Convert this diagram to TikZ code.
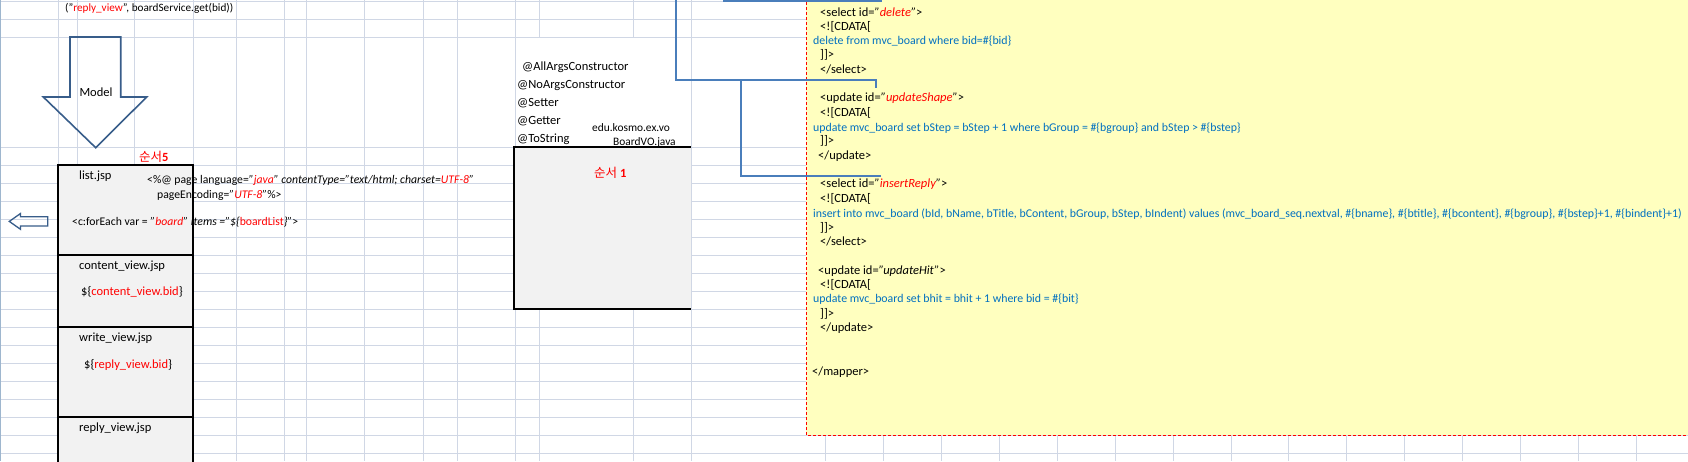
\documentclass[tikz,border=0pt]{standalone}
\usepackage{fontspec}
\setmainfont{Carlito}
\newfontfamily\kr{Noto Sans CJK KR}
\definecolor{gridc}{HTML}{D0D7E5}
\definecolor{edgec}{HTML}{9EB6CE}
\definecolor{boxfill}{HTML}{F2F2F2}
\definecolor{memo}{HTML}{FFFFBF}
\definecolor{codeblue}{HTML}{0070C0}
\definecolor{conn}{HTML}{4A7EBB}
\definecolor{shapeline}{HTML}{385D8A}
\newcommand{\fsz}{\fontsize{12.5}{15}\selectfont}
\newcommand{\fsm}{\fontsize{11.4}{13}\selectfont}
\newcommand{\fjsp}{\fontsize{11.7}{14}\selectfont}
\newcommand{\fcode}{\fontsize{11.85}{14}\selectfont}
\newcommand{\fcall}{\fontsize{11.2}{13}\selectfont}
\newcommand{\rd}[1]{\textcolor{red}{#1}}
\begin{document}
\begin{tikzpicture}[x=1pt,y=-1pt,
  every node/.style={inner sep=0pt},
  txt/.style={anchor=base west,font=\fsz},
  small/.style={anchor=base west,font=\fsm},
  jsptxt/.style={anchor=base west,font=\fjsp},
  codetxt/.style={anchor=base west,font=\fcode,text=codeblue},
  gridline/.style={gridc,line width=1pt},
  jspline/.style={black,line width=2.6pt},
  connline/.style={conn,line width=1.2pt},
  blockarrow/.style={shapeline,line width=1.6pt}]
\useasboundingbox (0,0) rectangle (1688,461);
\fill[white] (0,0) rectangle (1688,461);
% ---- grid
\foreach \yy in {1,19,37,147,165,183,201,219,237,255,273,291,309,327,345,363,381,399,417,435,453}
  \draw[gridline] (0,\yy) -- (1688,\yy);
\foreach \xx in {58,77,134,193,236,284,306,364,423,457,515,691,825,883,941,999,1057,1115,1173,1231,1288,1346,1404,1462,1520,1578,1636}
  \draw[gridline] (\xx,0) -- (\xx,461);
\foreach \xx in {539,633}{
  \draw[gridline] (\xx,0) -- (\xx,37);
  \draw[gridline] (\xx,147) -- (\xx,461);}
\draw[edgec,line width=1.2pt] (0.6,0) -- (0.6,461);
% ---- yellow memo
\fill[memo] (806,-3) rectangle (1692,435);
\draw[red,line width=1pt,dash pattern=on 3pt off 2pt] (806,-3) -- (806,435) -- (1692,435);
% ---- jsp column
\fill[boxfill] (58,165) rectangle (193,465);
\draw[jspline] (58,465) -- (58,165) -- (193,165) -- (193,465);
\draw[jspline] (58,255) -- (193,255);
\draw[jspline] (58,327) -- (193,327);
\draw[jspline] (58,417) -- (193,417);
% ---- VO box
\fill[boxfill] (514,147) rectangle (691,309);
\draw[jspline] (691,147) -- (514,147) -- (514,309) -- (691,309);
% ---- block arrows
\draw[blockarrow,line join=miter] (70,37) -- (120.7,37) -- (120.7,97) -- (146.7,97) -- (95.7,147.7) -- (43.3,97) -- (70,97) -- cycle;
\draw[blockarrow,line width=1.3pt,line join=miter] (47.7,216.7) -- (20.5,216.7) -- (20.5,213.5) -- (9.3,221.4) -- (20.5,229.3) -- (20.5,226) -- (47.7,226) -- cycle;
% ---- connectors
\coordinate (ca1) at (723,1);
\coordinate (ca2) at (882,1);
\coordinate (cb1) at (676,-2);
\coordinate (cb2) at (876,88.3);
\coordinate (cc1) at (741,80);
\coordinate (cc2) at (881,176);
\draw[connline] (ca1) -- (ca2);
\draw[connline] (cb1) |- (cb2 |- 0,80) -- (cb2);
\draw[connline] (cc1) |- (cc2);
% ---- left texts
\node[anchor=base west,font=\fcall] (call) at (65,11) {("\rd{reply\_view}", boardService.get(bid))};
\node[anchor=base,font=\fsz] (model) at (96,96) {Model};
\node[txt,text=red] (ord5) at (139,161) {{\kr 순서}\textbf{5}};
\node[txt] (listjsp) at (79,179) {list.jsp};
\node[jsptxt] (pagedir) at (147,183.3) {<\%@ page language=\textit{"\rd{java}"} \textit{contentType="text/html; charset=\rd{UTF-8}"}};
\node[jsptxt] (pageenc) at (157,198) {pageEncoding=\textit{"\rd{UTF-8}"}\%>};
\node[jsptxt] (foreach) at (72,225) {<c:forEach var = \textit{"\rd{board}"} \textit{items ="\$\{}\rd{boardList}\textit{\}"}>};
\node[txt] (contentjsp) at (79,269) {content\_view.jsp};
\node[txt] (contentbid) at (81,295) {\$\{\rd{content\_view.bid}\}};
\node[txt] (writejsp) at (79,341) {write\_view.jsp};
\node[txt] (replybid) at (84,368) {\$\{\rd{reply\_view.bid}\}};
\node[txt] (replyjsp) at (79,431) {reply\_view.jsp};
% ---- VO texts
\node[txt] (ann1) at (522,70) {@AllArgsConstructor};
\node[txt] (ann2) at (517,88) {@NoArgsConstructor};
\node[txt] (ann3) at (517,106) {@Setter};
\node[txt] (ann4) at (517,124) {@Getter};
\node[txt] (ann5) at (517,142) {@ToString};
\node[small] (pkg) at (592,131) {edu.kosmo.ex.vo};
\node[small] (vofile) at (613,145) {BoardVO.java};
\node[txt,text=red] (ord1) at (594,177) {{\kr 순서} \textbf{1}};
% ---- mapper texts
\node[txt] (m1) at (820,16) {<select id=\textit{"\rd{delete}"}>};
\node[txt] (m2) at (820,30.3) {<![CDATA[};
\node[codetxt] (m3) at (813,44.6) {delete from mvc\_board where bid=\#\{bid\}};
\node[txt] (m4) at (820,58.6) {]]>};
\node[txt] (m5) at (820,73.6) {</select>};
\node[txt] (m6) at (820,101.6) {<update id=\textit{"\rd{updateShape}"}>};
\node[txt] (m7) at (820,116.3) {<![CDATA[};
\node[codetxt] (m8) at (813,131) {update mvc\_board set bStep = bStep + 1 where bGroup = \#\{bgroup\} and bStep > \#\{bstep\}};
\node[txt] (m9) at (820,144.3) {]]>};
\node[txt] (m10) at (818,159.3) {</update>};
\node[txt] (m11) at (820,187.6) {<select id=\textit{"\rd{insertReply}"}>};
\node[txt] (m12) at (820,202.3) {<![CDATA[};
\node[codetxt] (m13) at (813,217) {insert into mvc\_board (bId, bName, bTitle, bContent, bGroup, bStep, bIndent) values (mvc\_board\_seq.nextval, \#\{bname\}, \#\{btitle\}, \#\{bcontent\}, \#\{bgroup\}, \#\{bstep\}+1, \#\{bindent\}+1)};
\node[txt] (m14) at (820,231) {]]>};
\node[txt] (m15) at (820,245.3) {</select>};
\node[txt] (m16) at (818,274.3) {<update id=\textit{"updateHit"}>};
\node[txt] (m17) at (820,288.3) {<![CDATA[};
\node[codetxt] (m18) at (813,302.6) {update mvc\_board set bhit = bhit + 1 where bid = \#\{bit\}};
\node[txt] (m19) at (820,317) {]]>};
\node[txt] (m20) at (820,331) {</update>};
\node[txt] (m21) at (812,375) {</mapper>};
\end{tikzpicture}
\end{document}
